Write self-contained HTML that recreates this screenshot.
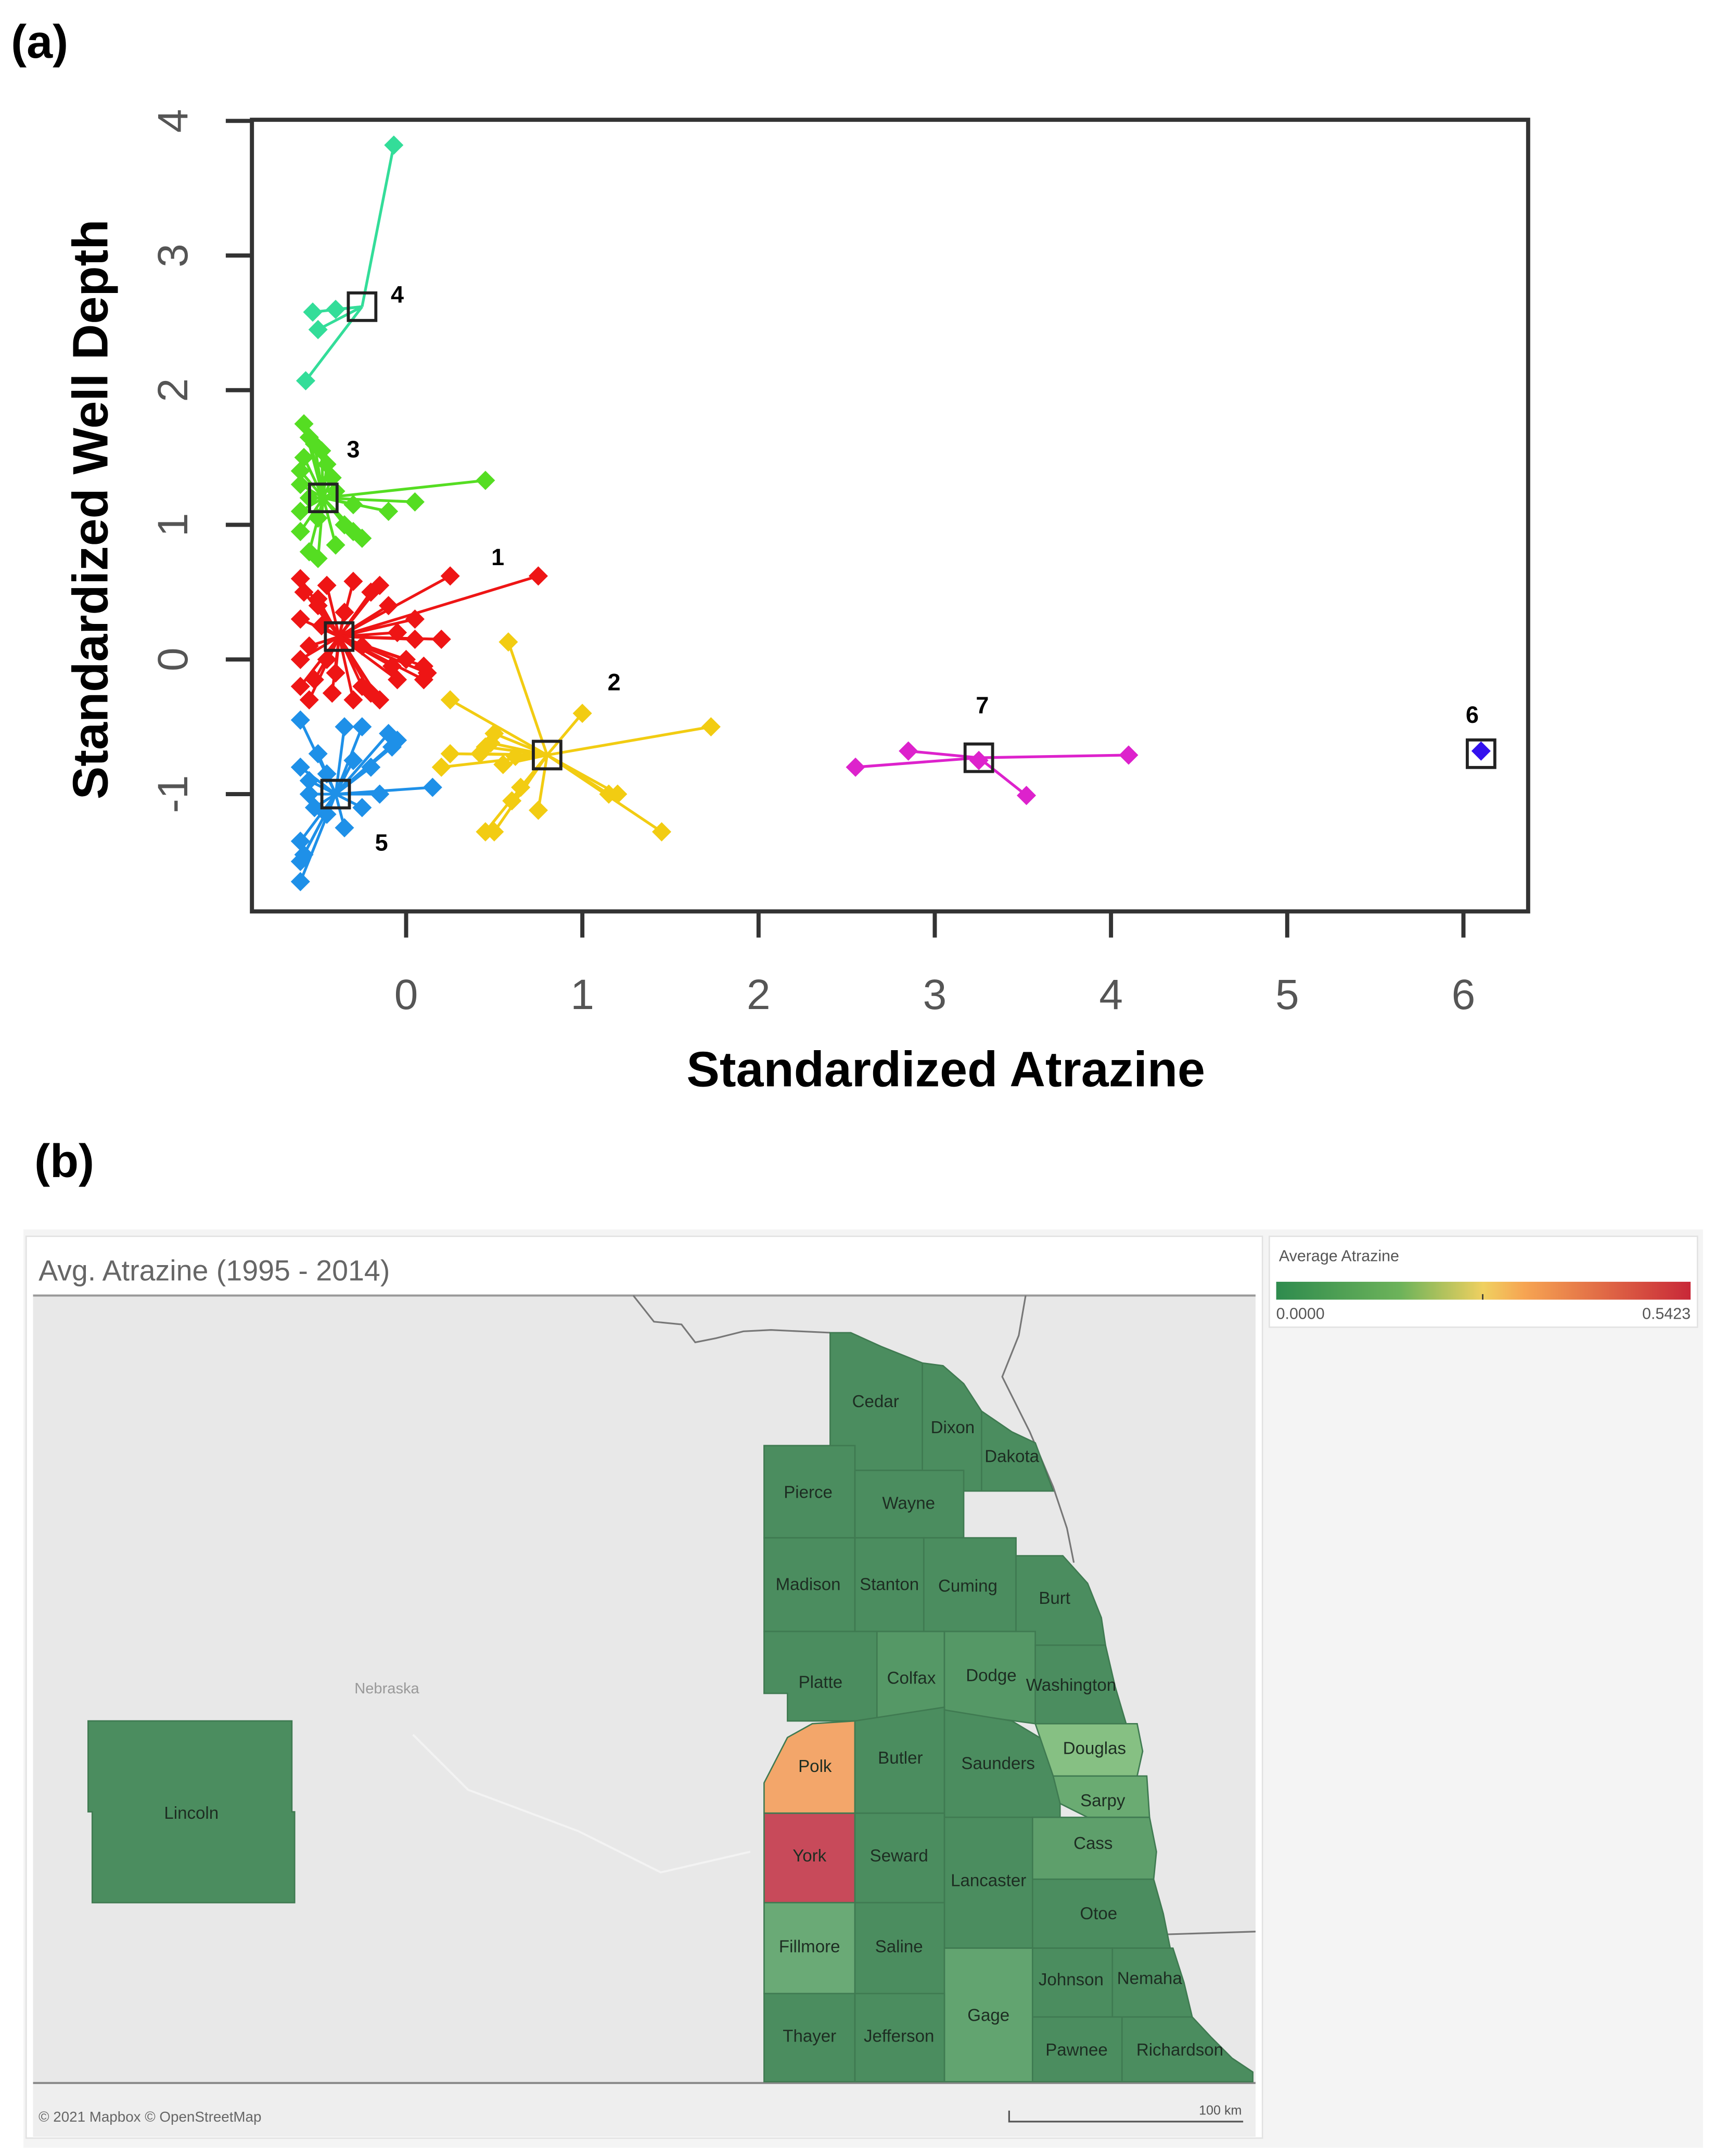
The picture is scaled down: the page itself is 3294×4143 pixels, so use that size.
<!DOCTYPE html>
<html><head><meta charset="utf-8"><style>
html,body{margin:0;padding:0;background:#fff;}
svg{display:block;}
text{font-family:"Liberation Sans",sans-serif;}
</style></head><body>
<svg id="fig" width="3294" height="4143" viewBox="0 0 1245 1566" preserveAspectRatio="none" xmlns="http://www.w3.org/2000/svg">
<rect x="0" y="0" width="1245" height="1566" fill="#fff"/>
<text x="8" y="42" font-size="34" font-weight="bold">(a)</text>
<g id="chart">
<rect x="183" y="87" width="927" height="575" fill="#fff" stroke="#333" stroke-width="3"/>
<g id="ticks"></g>
<g id="marks"></g>
<text x="687" y="789" font-size="36" font-weight="bold" text-anchor="middle">Standardized Atrazine</text>
<text transform="translate(78,370) rotate(-90)" font-size="36" font-weight="bold" text-anchor="middle">Standardized Well Depth</text>
</g>
<text x="25" y="855" font-size="34" font-weight="bold">(b)</text>
<rect x="17" y="893" width="1220" height="667" fill="#f4f4f4"/>
<rect x="19" y="898" width="898" height="655" fill="#fff" stroke="#e2e2e2"/>
<text x="28" y="930" font-size="21" fill="#666">Avg. Atrazine (1995 - 2014)</text>
<rect x="24" y="941" width="888" height="572" fill="#e8e8e8"/>
<line x1="24" y1="941" x2="912" y2="941" stroke="#999" stroke-width="1.5"/>
<line x1="24" y1="1513" x2="912" y2="1513" stroke="#888" stroke-width="1.5"/>
<rect x="24" y="1514" width="888" height="38" fill="#eeeeee"/>
<path d="M460,941 L475,960 L495,962 L505,975 L520,972 L540,967 L560,966 L603,968" fill="none" stroke="#777" stroke-width="1.2"/>
<path d="M745,941 L740,970 L728,1000 L748,1040 L765,1080 L775,1110 L780,1135" fill="none" stroke="#777" stroke-width="1.2"/>
<path d="M848,1405 L912,1403" fill="none" stroke="#777" stroke-width="1.2"/>
<path d="M300,1260 L340,1300 L420,1330 L480,1360 L545,1345" fill="none" stroke="#f3f3f3" stroke-width="1.5"/>
<text x="281" y="1230" font-size="11" fill="#999" text-anchor="middle">Nebraska</text>
<g id="counties"></g>
<text x="28" y="1541" font-size="10.5" fill="#666">© 2021 Mapbox © OpenStreetMap</text>
<path d="M733,1533 L733,1541 L903,1541" fill="none" stroke="#555" stroke-width="1.2"/>
<text x="902" y="1536" font-size="9.5" fill="#555" text-anchor="end">100 km</text>
<rect x="922" y="898" width="311" height="66" fill="#fff" stroke="#e2e2e2"/>
<text x="929" y="916" font-size="11.5" fill="#555">Average Atrazine</text>
<defs><linearGradient id="grad" x1="0" x2="1" y1="0" y2="0">
<stop offset="0" stop-color="#2e8b4e"/><stop offset="0.3" stop-color="#6db35a"/><stop offset="0.5" stop-color="#f0d060"/><stop offset="0.6" stop-color="#f6a452"/><stop offset="1" stop-color="#c82838"/></linearGradient></defs>
<rect x="927" y="931" width="301" height="13" fill="url(#grad)"/>
<line x1="1077" y1="940" x2="1077" y2="944" stroke="#333"/>
<text x="927" y="958" font-size="11.5" fill="#555">0.0000</text>
<text x="1228" y="958" font-size="11.5" fill="#555" text-anchor="end">0.5423</text>
</svg>
<script>
const xTicks=[0,1,2,3,4,5,6];
const yTicks=[-1,0,1,2,3,4];
const clusterIds=["1","2","3","4","5","6","7"];
const clusterColors=["#ee1515","#f2cc12","#55dd22","#33dd99","#1e90e8","#3311ee","#dd22cc"];
const centersX=[-0.38,0.80,-0.47,-0.25,-0.40,6.10,3.25];
const centersY=[0.17,-0.71,1.20,2.62,-1.00,-0.70,-0.73];
const labelDX=[0.90,0.38,0.17,0.2,0.26,-0.05,0.02];
const labelDY=[0.53,0.48,0.3,0.03,-0.42,0.23,0.33];
const pts1X=[0.75,0.25,-0.6,-0.45,-0.2,-0.3,-0.1,0.05,-0.05,0.2,-0.6,-0.55,-0.6,-0.55,-0.4,-0.3,-0.2,-0.05,0.1,0.1,-0.45,0.0,-0.25,-0.5,0.05,-0.15,-0.58,-0.5,-0.35,-0.15,-0.52,-0.42,-0.25,0.12,-0.6,-0.48,-0.08];
const pts1Y=[0.62,0.62,0.6,0.55,0.5,0.58,0.4,0.3,0.2,0.15,0.3,0.1,-0.2,-0.3,-0.1,-0.3,-0.25,-0.15,-0.15,-0.05,0.0,0.0,0.1,0.4,0.15,-0.3,0.5,0.45,0.35,0.55,-0.15,-0.25,-0.2,-0.1,0.0,0.25,-0.05];
const pts2X=[0.58,1.73,1.0,0.25,0.5,0.45,0.25,0.2,0.65,0.6,1.15,1.2,0.75,0.45,0.5,1.45,0.62,0.48,0.55,0.42];
const pts2Y=[0.13,-0.5,-0.4,-0.3,-0.55,-0.65,-0.7,-0.8,-0.95,-1.05,-1.0,-1.0,-1.12,-1.28,-1.28,-1.28,-0.72,-0.62,-0.78,-0.7];
const pts3X=[-0.58,-0.52,-0.45,-0.6,-0.55,0.45,0.05,-0.1,-0.25,-0.55,-0.6,-0.4,-0.3,-0.6,-0.5,-0.35,-0.6,-0.48,-0.42,-0.55,-0.4,-0.3,-0.5,-0.58];
const pts3Y=[1.75,1.6,1.45,1.3,1.2,1.33,1.17,1.1,0.9,0.8,0.95,0.85,1.15,1.4,1.05,1.0,1.1,1.55,1.35,1.65,1.25,0.95,0.75,1.5];
const pts4X=[-0.07,-0.53,-0.5,-0.57,-0.4];
const pts4Y=[3.82,2.58,2.45,2.07,2.6];
const pts5X=[-0.6,-0.35,-0.25,-0.1,-0.05,0.15,-0.6,-0.55,-0.45,-0.35,-0.6,-0.6,-0.6,-0.2,-0.15,-0.25,-0.5,-0.55,-0.3,-0.08,-0.45,-0.58,-0.52];
const pts5Y=[-0.45,-0.5,-0.5,-0.55,-0.6,-0.95,-0.8,-1.0,-1.15,-1.25,-1.35,-1.5,-1.65,-0.8,-1.0,-1.1,-0.7,-0.9,-0.75,-0.65,-0.85,-1.45,-1.1];
const pts6X=[6.1];
const pts6Y=[-0.68];
const pts7X=[2.55,2.85,4.1,3.52,3.25];
const pts7Y=[-0.8,-0.68,-0.71,-1.01,-0.75];
const ptsX=[pts1X,pts2X,pts3X,pts4X,pts5X,pts6X,pts7X];
const ptsY=[pts1Y,pts2Y,pts3Y,pts4Y,pts5Y,pts6Y,pts7Y];

const NS="http://www.w3.org/2000/svg";
function sx(v){return 295+v*128;}
function sy(v){return 479-v*97.8;}
function mk(tag,attrs,parent){const e=document.createElementNS(NS,tag);for(const k in attrs)e.setAttribute(k,attrs[k]);parent.appendChild(e);return e;}
const tg=document.getElementById('ticks');
xTicks.forEach(t=>{
  const l=mk('line',{x1:sx(t),x2:sx(t),y1:662,y2:681,stroke:'#333','stroke-width':3},tg);
  
  
  const tx=mk('text',{x:sx(t),y:733,'font-size':31,'text-anchor':'middle',fill:'#555'},tg);
  tx.textContent=t;
  
  
});
yTicks.forEach(t=>{
  const l=mk('line',{x1:164,x2:183,y1:sy(t),y2:sy(t),stroke:'#333','stroke-width':3},tg);
  
  
  const tx=mk('text',{transform:`translate(136,${sy(t)}) rotate(-90)`,'font-size':31,'text-anchor':'middle',fill:'#555'},tg);
  tx.textContent=t;
  
  
});
const mg=document.getElementById('marks');
ptsX.forEach((xs,c)=>{
  const g=mk('g',{},mg);
  
  
  const cx=sx(centersX[c]),cy=sy(centersY[c]),col=clusterColors[c];
  xs.forEach((v,i)=>{
    mk('line',{x1:cx,y1:cy,x2:sx(v),y2:sy(ptsY[c][i]),stroke:col,'stroke-width':2},g);
  });
  const R=7;
  xs.forEach((v,i)=>{
    const px=sx(v),py=sy(ptsY[c][i]);
    const p=mk('path',{d:`M${px},${py-R}L${px+R},${py}L${px},${py+R}L${px-R},${py}Z`,fill:col},g);
    
    
  });
  const r=mk('rect',{x:cx-10,y:cy-10,width:20,height:20,fill:'none',stroke:'#222','stroke-width':2.2},g);
  
  
  const lb=mk('text',{x:sx(centersX[c]+labelDX[c]),y:sy(centersY[c]+labelDY[c]),'font-size':17,'font-weight':'bold','text-anchor':'middle'},g);
  lb.textContent=clusterIds[c];
  
  
});
const D="#4b8d5f",S="#3f7a51";
const counties=[
 ["Cedar","M603,968 L618,968 L640,978 L670,990 L670,1068 L603,1068Z",D,636,1022],
 ["Dixon","M670,990 L685,992 L700,1005 L713,1025 L713,1083 L670,1083Z",D,692,1041],
 ["Dakota","M713,1025 L735,1040 L752,1048 L762,1075 L765,1083 L713,1083Z",D,735,1062],
 ["Pierce","M555,1050 L621,1050 L621,1117 L555,1117Z",D,587,1088],
 ["Wayne","M621,1068 L700,1068 L700,1117 L621,1117Z",D,660,1096],
 ["Madison","M555,1117 L621,1117 L621,1185 L555,1185Z",D,587,1155],
 ["Stanton","M621,1117 L671,1117 L671,1185 L621,1185Z",D,646,1155],
 ["Cuming","M671,1117 L738,1117 L738,1185 L671,1185Z",D,703,1156],
 ["Burt","M738,1130 L772,1130 L790,1150 L800,1175 L803,1195 L752,1195 L738,1185Z",D,766,1165],
 ["Platte","M555,1185 L637,1185 L637,1250 L572,1250 L572,1230 L555,1230Z",D,596,1226],
 ["Colfax","M637,1185 L686,1185 L686,1255 L637,1255Z","#559866",662,1223],
 ["Dodge","M686,1185 L752,1185 L752,1252 L700,1245 L686,1242Z","#559866",720,1221],
 ["Washington","M752,1195 L803,1195 L810,1225 L818,1252 L752,1252Z",D,778,1228],
 ["Polk","M572,1262 L590,1252 L621,1250 L621,1317 L555,1317 L555,1295Z","#f3a66a",592,1287],
 ["Butler","M621,1250 L686,1240 L686,1317 L621,1317Z",D,654,1281],
 ["Saunders","M686,1242 L735,1250 L760,1265 L770,1290 L770,1320 L686,1320Z",D,725,1285],
 ["Douglas","M752,1252 L826,1252 L830,1272 L826,1290 L765,1290Z","#86c083",795,1274],
 ["Sarpy","M765,1290 L833,1290 L835,1320 L790,1320 L770,1310Z","#6aab72",801,1312],
 ["York","M555,1317 L621,1317 L621,1382 L555,1382Z","#c84a5a",588,1352],
 ["Seward","M621,1317 L686,1317 L686,1382 L621,1382Z",D,653,1352],
 ["Lancaster","M686,1320 L750,1320 L750,1415 L686,1415Z",D,718,1370],
 ["Cass","M750,1320 L835,1320 L840,1345 L838,1365 L750,1365Z","#5e9f6b",794,1343],
 ["Fillmore","M555,1382 L621,1382 L621,1448 L555,1448Z","#6aaa76",588,1418],
 ["Saline","M621,1382 L686,1382 L686,1448 L621,1448Z",D,653,1418],
 ["Otoe","M750,1365 L838,1365 L845,1390 L850,1415 L750,1415Z",D,798,1394],
 ["Gage","M686,1415 L750,1415 L750,1512 L686,1512Z","#62a470",718,1468],
 ["Johnson","M750,1415 L808,1415 L808,1465 L750,1465Z",D,778,1442],
 ["Nemaha","M808,1415 L852,1415 L860,1440 L866,1465 L808,1465Z",D,835,1441],
 ["Thayer","M555,1448 L621,1448 L621,1512 L555,1512Z",D,588,1483],
 ["Jefferson","M621,1448 L686,1448 L686,1512 L621,1512Z",D,653,1483],
 ["Pawnee","M750,1465 L815,1465 L815,1512 L750,1512Z",D,782,1493],
 ["Richardson","M815,1465 L866,1465 L880,1480 L895,1495 L910,1505 L910,1512 L815,1512Z",D,857,1493],
 ["Lincoln","M64,1250 L212,1250 L212,1316 L214,1316 L214,1382 L67,1382 L67,1316 L64,1316Z",D,139,1321]
];
const cg=document.getElementById('counties');
counties.forEach(c=>{
  const p=mk('path',{d:c[1],fill:c[2],stroke:S,'stroke-width':1},cg);
  
  
  const t=mk('text',{x:c[3],y:c[4],'font-size':12.5,fill:'#1d2d22','text-anchor':'middle'},cg);
  t.textContent=c[0];
  
  
});
</script>
</body></html>
